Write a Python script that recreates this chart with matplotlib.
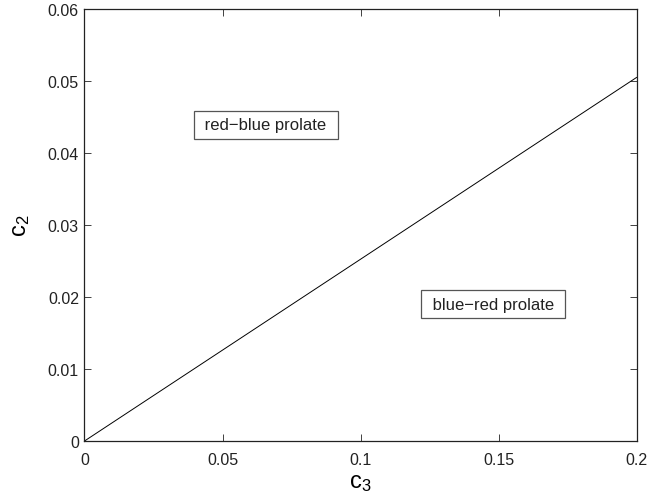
import matplotlib
matplotlib.use("Agg")
import matplotlib.pyplot as plt
import numpy as np

plt.rcParams['font.family'] = ['Liberation Sans', 'DejaVu Sans']
plt.rcParams['mathtext.fontset'] = 'custom'
plt.rcParams['mathtext.rm'] = 'Liberation Sans'
plt.rcParams['mathtext.it'] = 'Liberation Sans'

# boundary line between the two regions
c3 = [0.0, 0.2]
c2 = [0.0, 0.0505]

xticks = [0, 0.05, 0.1, 0.15, 0.2]
yticks = [0, 0.01, 0.02, 0.03, 0.04, 0.05, 0.06]

labels = ["red\u2212blue prolate", "blue\u2212red prolate"]
label_pos = [(0.0656, 0.0439), (0.148, 0.0190)]

fig = plt.figure(figsize=(6.48, 5.02), dpi=100)
ax = fig.add_axes([0.1304, 0.1195, 0.852, 0.8605])

ax.plot(c3, c2, color='black', linewidth=0.7)

ax.set_xlim(0, 0.2)
ax.set_ylim(0, 0.06)
ax.set_xticks(xticks)
ax.set_xticklabels(['0', '0.05', '0.1', '0.15', '0.2'])
ax.set_yticks(yticks)
ax.set_yticklabels(['0', '0.01', '0.02', '0.03', '0.04', '0.05', '0.06'])
ax.tick_params(direction='in', length=5, width=0.6, top=True, right=True,
               labelsize=11.5, colors='#222222')
ax.tick_params(axis='x', pad=8)
ax.tick_params(axis='y', pad=4)
for s in ax.spines.values():
    s.set_linewidth(0.9)
    s.set_color('#222222')

ax.set_xlabel(r'$\mathrm{c}_{3}$', fontsize=17, labelpad=3)
ax.set_ylabel(r'$\mathrm{c}_{2}$', fontsize=17, labelpad=11)

for txt, (x, y) in zip(labels, label_pos):
    ax.text(x, y, " " + txt + " ", ha='center', va='center', fontsize=12,
            color='#222222',
            bbox=dict(boxstyle='square,pad=0.4', facecolor='white',
                      edgecolor='#555555', linewidth=0.9))

fig.savefig('out.png', dpi=100)
